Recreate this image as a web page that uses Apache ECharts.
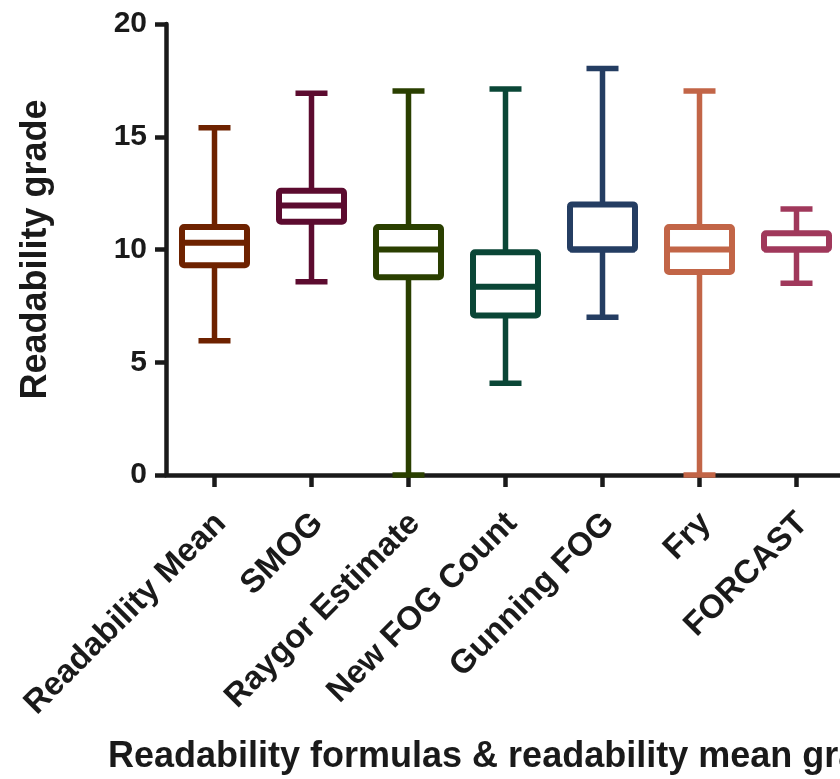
<!DOCTYPE html>
<html>
<head>
<meta charset="utf-8">
<script src="https://cdn.jsdelivr.net/npm/echarts@6/dist/echarts.min.js"></script>
<style>
html,body{margin:0;padding:0;background:#fff;}
#chart{width:840px;height:779px;}
</style>
</head>
<body>
<div id="chart"></div>
<script>
// Data
const categories = ['Readability Mean', 'SMOG', 'Raygor Estimate', 'New FOG Count', 'Gunning FOG', 'Fry', 'FORCAST'];
const mins    = [5.95, 8.57, 0,     4.07, 7.0,   0,     8.5];
const q1s     = [9.3,  11.23, 8.77, 7.07, 10.0,  9.0,   10.0];
const medians = [10.3, 11.95, 10.0, 8.35, 10.0,  10.0,  10.0];
const q3s     = [11.0, 12.6, 11.0,  9.88, 12.0,  11.0,  10.72];
const maxs    = [15.4, 16.93, 17.03, 17.12, 18.03, 17.03, 11.8];
const colors  = ['#6e2200', '#5c0b2f', '#2a3f00', '#0a4636', '#243d62', '#c26547', '#a0385b'];
const yTicks  = [0, 5, 10, 15, 20];

const FONT = '"Liberation Sans", Arial, Helvetica, sans-serif';
const INK = '#1a1a1a';

const data = categories.map((c, i) => [i, mins[i], q1s[i], medians[i], q3s[i], maxs[i]]);

const chart = echarts.init(document.getElementById('chart'), null, {renderer: 'canvas'});

function renderItem(params, api) {
  const i = api.value(0);
  const vMin = api.value(1), vQ1 = api.value(2), vMed = api.value(3), vQ3 = api.value(4), vMax = api.value(5);
  const band = api.size([1, 0])[0];
  const boxW = band * 0.67;
  const capW = band * 0.33;
  const pMin = api.coord([i, vMin]);
  const pQ1 = api.coord([i, vQ1]);
  const pMed = api.coord([i, vMed]);
  const pQ3 = api.coord([i, vQ3]);
  const pMax = api.coord([i, vMax]);
  const x = pMed[0];
  const col = colors[i];
  const lineStyle = {stroke: col, lineWidth: 5.5, fill: null};
  const boxStyle = {stroke: col, lineWidth: 6, fill: '#fff', lineJoin: 'round'};
  return {
    type: 'group',
    children: [
      {type: 'line', shape: {x1: x, y1: pMax[1], x2: x, y2: pQ3[1]}, style: lineStyle},
      {type: 'line', shape: {x1: x, y1: pQ1[1], x2: x, y2: pMin[1]}, style: lineStyle},
      {type: 'line', shape: {x1: x - capW / 2, y1: pMax[1], x2: x + capW / 2, y2: pMax[1]}, style: lineStyle},
      {type: 'line', shape: {x1: x - capW / 2, y1: pMin[1], x2: x + capW / 2, y2: pMin[1]}, style: lineStyle},
      {type: 'rect', shape: {x: x - boxW / 2, y: pQ3[1], width: boxW, height: pQ1[1] - pQ3[1], r: 2}, style: boxStyle},
      {type: 'line', shape: {x1: x - boxW / 2, y1: pMed[1], x2: x + boxW / 2, y2: pMed[1]}, style: {stroke: col, lineWidth: 6}}
    ]
  };
}

const option = {
  backgroundColor: '#ffffff',
  animation: false,
  title: {
    text: 'Readability formulas & readability mean grade',
    left: 103,
    top: 734,
    textStyle: {fontFamily: FONT, fontSize: 36, fontWeight: 'bold', color: INK}
  },
  grid: {left: 166, top: 24, width: 679, height: 451, outerBoundsMode: 'none', containLabel: false},
  xAxis: {
    type: 'category',
    data: categories,
    boundaryGap: true,
    axisLine: {show: true, lineStyle: {color: INK, width: 4.5}},
    axisTick: {show: true, alignWithLabel: true, length: 12, lineStyle: {color: INK, width: 4.5}},
    axisLabel: {
      rotate: 45,
      interval: 0,
      margin: 37,
      fontFamily: FONT,
      fontSize: 33,
      fontWeight: 'bold',
      color: INK,
      verticalAlign: 'top',
      lineHeight: 18
    },
    splitLine: {show: false}
  },
  yAxis: {
    type: 'value',
    min: yTicks[0],
    max: yTicks[yTicks.length - 1],
    interval: yTicks[1] - yTicks[0],
    name: 'Readability grade',
    nameLocation: 'middle',
    nameGap: 112,
    nameTextStyle: {fontFamily: FONT, fontSize: 36, fontWeight: 'bold', color: INK},
    axisLine: {show: true, lineStyle: {color: INK, width: 4.5}},
    axisTick: {show: true, length: 11, lineStyle: {color: INK, width: 4.5}},
    axisLabel: {margin: 19, fontFamily: FONT, fontSize: 30, fontWeight: 'bold', color: INK},
    splitLine: {show: false}
  },
  series: [{
    type: 'custom',
    renderItem: renderItem,
    encode: {x: 0, y: [1, 2, 3, 4, 5]},
    data: data,
    clip: false,
    z: 3
  }]
};

chart.setOption(option);
</script>
</body>
</html>
